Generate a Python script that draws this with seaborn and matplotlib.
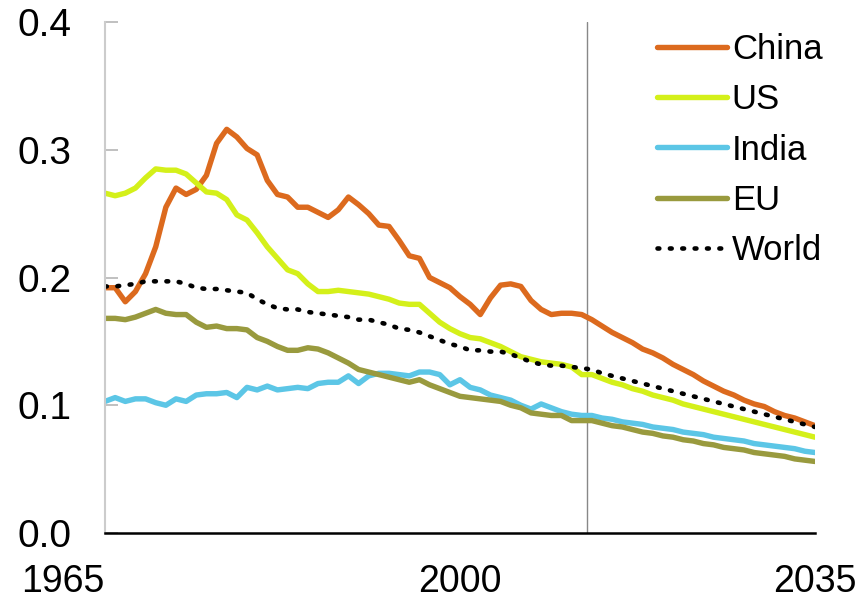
import numpy as np
import pandas as pd
import matplotlib
matplotlib.use("Agg")
import matplotlib.pyplot as plt
import seaborn as sns

years = list(range(1965, 2036))

china = [0.192, 0.192, 0.181, 0.189, 0.203, 0.224, 0.255, 0.270, 0.265, 0.269,
         0.280, 0.305, 0.316, 0.310, 0.301, 0.296, 0.276, 0.265, 0.263, 0.255,
         0.255, 0.251, 0.247, 0.253, 0.263, 0.257, 0.250, 0.241, 0.240, 0.229,
         0.217, 0.215, 0.200, 0.196, 0.192, 0.185, 0.179, 0.171, 0.184, 0.194,
         0.195, 0.193, 0.182, 0.175, 0.171, 0.172, 0.172, 0.171, 0.167, 0.162,
         0.157, 0.153, 0.149, 0.144, 0.141, 0.137, 0.132, 0.128, 0.124, 0.119,
         0.115, 0.111, 0.108, 0.104, 0.101, 0.099, 0.095, 0.092, 0.090, 0.087,
         0.084]

us = [0.266, 0.264, 0.266, 0.270, 0.278, 0.285, 0.284, 0.284, 0.281, 0.274,
      0.267, 0.266, 0.261, 0.249, 0.245, 0.235, 0.224, 0.215, 0.206, 0.203,
      0.195, 0.189, 0.189, 0.190, 0.189, 0.188, 0.187, 0.185, 0.183, 0.180,
      0.179, 0.179, 0.172, 0.165, 0.160, 0.156, 0.153, 0.152, 0.149, 0.146,
      0.142, 0.138, 0.136, 0.134, 0.133, 0.132, 0.130, 0.124, 0.124, 0.121,
      0.118, 0.116, 0.113, 0.111, 0.108, 0.106, 0.104, 0.101, 0.099, 0.097,
      0.095, 0.093, 0.091, 0.089, 0.087, 0.085, 0.083, 0.081, 0.079, 0.077,
      0.075]

india = [0.103, 0.106, 0.103, 0.105, 0.105, 0.102, 0.100, 0.105, 0.103, 0.108,
         0.109, 0.109, 0.110, 0.106, 0.114, 0.112, 0.115, 0.112, 0.113, 0.114,
         0.113, 0.117, 0.118, 0.118, 0.123, 0.117, 0.123, 0.125, 0.125, 0.124,
         0.123, 0.126, 0.126, 0.124, 0.116, 0.120, 0.114, 0.112, 0.108, 0.106,
         0.104, 0.100, 0.097, 0.101, 0.098, 0.095, 0.093, 0.092, 0.092, 0.090,
         0.089, 0.087, 0.086, 0.085, 0.083, 0.082, 0.081, 0.079, 0.078, 0.077,
         0.075, 0.074, 0.073, 0.072, 0.070, 0.069, 0.068, 0.067, 0.066, 0.064,
         0.063]

eu = [0.168, 0.168, 0.167, 0.169, 0.172, 0.175, 0.172, 0.171, 0.171, 0.165,
      0.161, 0.162, 0.160, 0.160, 0.159, 0.153, 0.150, 0.146, 0.143, 0.143,
      0.145, 0.144, 0.141, 0.137, 0.133, 0.128, 0.126, 0.124, 0.122, 0.120,
      0.118, 0.120, 0.116, 0.113, 0.110, 0.107, 0.106, 0.105, 0.104, 0.103,
      0.100, 0.098, 0.094, 0.093, 0.092, 0.092, 0.088, 0.088, 0.088, 0.086,
      0.084, 0.083, 0.081, 0.079, 0.078, 0.076, 0.075, 0.073, 0.072, 0.070,
      0.069, 0.067, 0.066, 0.065, 0.063, 0.062, 0.061, 0.060, 0.058, 0.057,
      0.056]

world = [0.193, 0.193, 0.194, 0.195, 0.197, 0.197, 0.197, 0.197, 0.195, 0.192,
         0.191, 0.191, 0.190, 0.189, 0.188, 0.183, 0.179, 0.176, 0.175, 0.175,
         0.173, 0.172, 0.171, 0.170, 0.169, 0.167, 0.167, 0.165, 0.163, 0.160,
         0.159, 0.157, 0.154, 0.151, 0.148, 0.146, 0.143, 0.143, 0.142, 0.142,
         0.140, 0.137, 0.134, 0.132, 0.131, 0.131, 0.130, 0.129, 0.128, 0.125,
         0.123, 0.121, 0.119, 0.117, 0.115, 0.113, 0.111, 0.109, 0.107, 0.105,
         0.103, 0.101, 0.099, 0.097, 0.095, 0.093, 0.091, 0.089, 0.087, 0.085,
         0.083]

series_names = ["China", "US", "India", "EU", "World"]
series_colors = ["#DC6A1E", "#D4F01A", "#5CC6E6", "#999A3E", "#000000"]
forecast_start = 2012.5

sns.set_style("white")
plt.rcParams["font.family"] = ["Liberation Sans Narrow", "Liberation Sans", "DejaVu Sans"]
plt.rcParams["text.color"] = "black"
plt.rcParams["xtick.color"] = "black"
plt.rcParams["ytick.color"] = "black"

fig = plt.figure(figsize=(8.62, 6.02), dpi=100)
ax = fig.add_axes([105 / 862, 69 / 602, 710 / 862, 511 / 602])

all_values = [china, us, india, eu, world]
for name, vals, col in zip(series_names, all_values, series_colors):
    if name == "World":
        sns.lineplot(x=years, y=vals, ax=ax, color=col, lw=3.3,
                     linestyle=(0, (0.4, 2.3)), label=name)
        ax.lines[-1].set_dash_capstyle("round")
    else:
        sns.lineplot(x=years, y=vals, ax=ax, color=col, lw=3.9, label=name)

ax.axvline(forecast_start, color="#888888", lw=1, zorder=0)

ax.set_xlim(1965, 2035)
ax.set_ylim(0, 0.4)
ax.set_xticks([1965, 2000, 2035])
ax.set_xticklabels(["1965", "2000", "2035"])
ax.set_yticks([0.0, 0.1, 0.2, 0.3, 0.4])
ax.set_yticklabels(["0.0", "0.1", "0.2", "0.3", "0.4"])
ax.tick_params(axis="x", length=0, pad=22, labelsize=27, labelcolor="black")
ax.tick_params(axis="y", left=True, direction="in", length=9, width=1.3,
               color="#BBBBBB", pad=24, labelsize=28, labelcolor="black")
ax.get_xticklabels()[0].set_horizontalalignment("right")

for s in ["top", "right"]:
    ax.spines[s].set_visible(False)
ax.spines["left"].set_color("#CCCCCC")
ax.spines["left"].set_linewidth(1.5)
ax.spines["bottom"].set_color("#000000")
ax.spines["bottom"].set_linewidth(1.8)
ax.set_xlabel("")
ax.set_ylabel("")

leg = ax.legend(loc="upper right", bbox_to_anchor=(1.03, 1.006), frameon=False,
                fontsize=25, handlelength=2.0, handletextpad=0.15,
                labelspacing=0.5, borderaxespad=0)

fig.savefig("out.png", dpi=100)
